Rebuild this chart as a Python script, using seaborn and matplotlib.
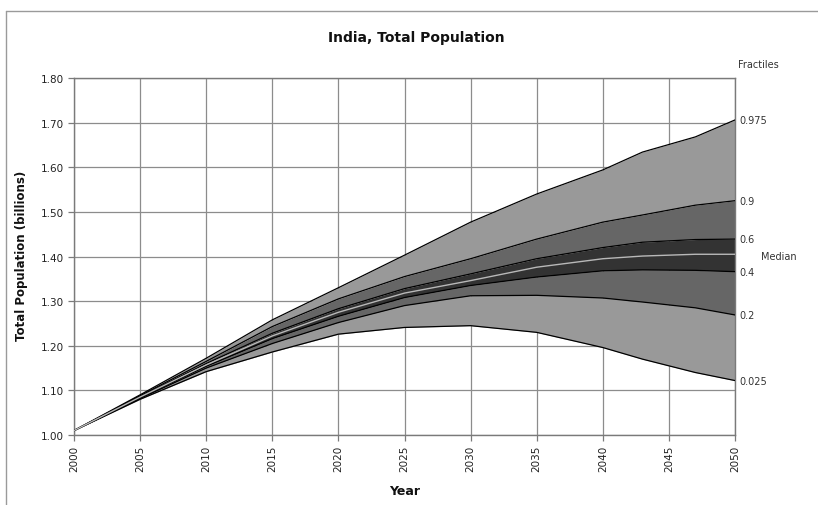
import matplotlib
matplotlib.use("Agg")
import matplotlib.pyplot as plt
from matplotlib.lines import Line2D
import numpy as np
import pandas as pd
import seaborn as sns

# Projected total population of India (billions) by fractile
years = [2000, 2005, 2010, 2015, 2020, 2025, 2030, 2035, 2040, 2043, 2047, 2050]
q975 = [1.010, 1.090, 1.172, 1.258, 1.330, 1.403, 1.477, 1.540, 1.594, 1.634, 1.668, 1.706]
q90 = [1.010, 1.088, 1.165, 1.243, 1.305, 1.355, 1.395, 1.439, 1.477, 1.493, 1.515, 1.525]
q60 = [1.010, 1.086, 1.160, 1.228, 1.283, 1.328, 1.361, 1.395, 1.420, 1.432, 1.438, 1.439]
median = [1.010, 1.085, 1.157, 1.222, 1.275, 1.318, 1.346, 1.376, 1.395, 1.401, 1.405, 1.405]
q40 = [1.010, 1.084, 1.154, 1.216, 1.266, 1.308, 1.335, 1.354, 1.368, 1.370, 1.369, 1.366]
q20 = [1.010, 1.082, 1.150, 1.205, 1.252, 1.290, 1.312, 1.313, 1.307, 1.298, 1.285, 1.269]
q025 = [1.010, 1.080, 1.142, 1.186, 1.226, 1.241, 1.245, 1.230, 1.196, 1.170, 1.140, 1.122]

fractile_names = ["0.975", "0.9", "0.6", "0.4", "0.2", "0.025"]
x_ticks = list(range(2000, 2051, 5))
y_ticks = [1.00, 1.10, 1.20, 1.30, 1.40, 1.50, 1.60, 1.70, 1.80]

title = "India, Total Population"
x_label = "Year"
y_label = "Total Population (billions)"

sns.set_theme(style="white")
plt.rcParams["font.family"] = ["DejaVu Sans"]

W, H = 818, 506
fig = plt.figure(figsize=(W / 100, H / 100), dpi=100)
fig.patch.set_facecolor("white")
ax = fig.add_axes([74 / W, 1 - 436 / H, (735 - 74) / W, (436 - 79) / H])

light, mid, dark = "#999999", "#666666", "#333333"
bands = [(q025, q20, light), (q20, q40, mid), (q40, q60, dark),
         (q60, q90, mid), (q90, q975, light)]
for lo, hi, col in bands:
    ax.fill_between(years, lo, hi, color=col, linewidth=0, zorder=2)

edges = pd.DataFrame({"year": years, "0.975": q975, "0.9": q90, "0.6": q60,
                      "0.4": q40, "0.2": q20, "0.025": q025})
edges_long = edges.melt(id_vars="year", var_name="fractile", value_name="pop")
sns.lineplot(data=edges_long, x="year", y="pop", units="fractile", estimator=None,
             color="black", linewidth=0.9, ax=ax, zorder=3, legend=False)
sns.lineplot(x=years, y=median, color="#b8b8b8", linewidth=1.0, ax=ax, zorder=4)

ax.set_xlim(2000, 2050)
ax.set_ylim(1.0, 1.8)
ax.set_xticks(x_ticks)
ax.set_xticklabels([str(t) for t in x_ticks], rotation=90)
ax.set_yticks(y_ticks)
ax.set_yticklabels([f"{t:.2f}" for t in y_ticks])
ax.grid(True, color="#8c8c8c", linewidth=0.9)
ax.set_axisbelow(True)
for s in ax.spines.values():
    s.set_visible(True)
    s.set_color("#7a7a7a")
    s.set_linewidth(1.0)
ax.tick_params(axis="both", which="major", length=4.5, width=0.9, color="#7a7a7a",
               labelsize=7.5, labelcolor="#222222", pad=2.5, direction="out",
               bottom=True, left=True)

ax.set_xlabel(x_label, fontsize=9, fontweight="bold", color="#111111")
ax.set_ylabel(y_label, fontsize=8.5, fontweight="bold", color="#111111")
ax.xaxis.set_label_coords(0.5, (436 - 485) / 357)
ax.yaxis.set_label_coords((28 - 74) / 661, (436 - 256) / 357)

fig.text(416 / W, 1 - 38 / H, title, ha="center", va="center",
         fontsize=10, fontweight="bold", color="#111111")

# Fractile labels at the right-hand ends of the boundary lines
ends = [q975[-1], q90[-1], q60[-1], q40[-1], q20[-1], q025[-1]]
for name, val in zip(fractile_names, ends):
    ax.annotate(name, xy=(years[-1], val), xytext=(3.5, 0), textcoords="offset points",
                ha="left", va="center", fontsize=7, color="#333333", annotation_clip=False)
ax.annotate("Median", xy=(years[-1], median[-1]), xytext=(19, -1), textcoords="offset points",
            ha="left", va="center", fontsize=7, color="#333333", annotation_clip=False)
fig.text(738 / W, 1 - 65 / H, "Fractiles", ha="left", va="center",
         fontsize=7, color="#333333")

# Chart-area border along the top and left edges
fig.add_artist(Line2D([6 / W, 1.0], [1 - 12 / H, 1 - 12 / H], color="#9a9a9a",
                      linewidth=1.0, transform=fig.transFigure))
fig.add_artist(Line2D([6 / W, 6 / W], [0.0, 1 - 12 / H], color="#9a9a9a",
                      linewidth=1.0, transform=fig.transFigure))

fig.savefig("out.png", dpi=100, facecolor="white")
